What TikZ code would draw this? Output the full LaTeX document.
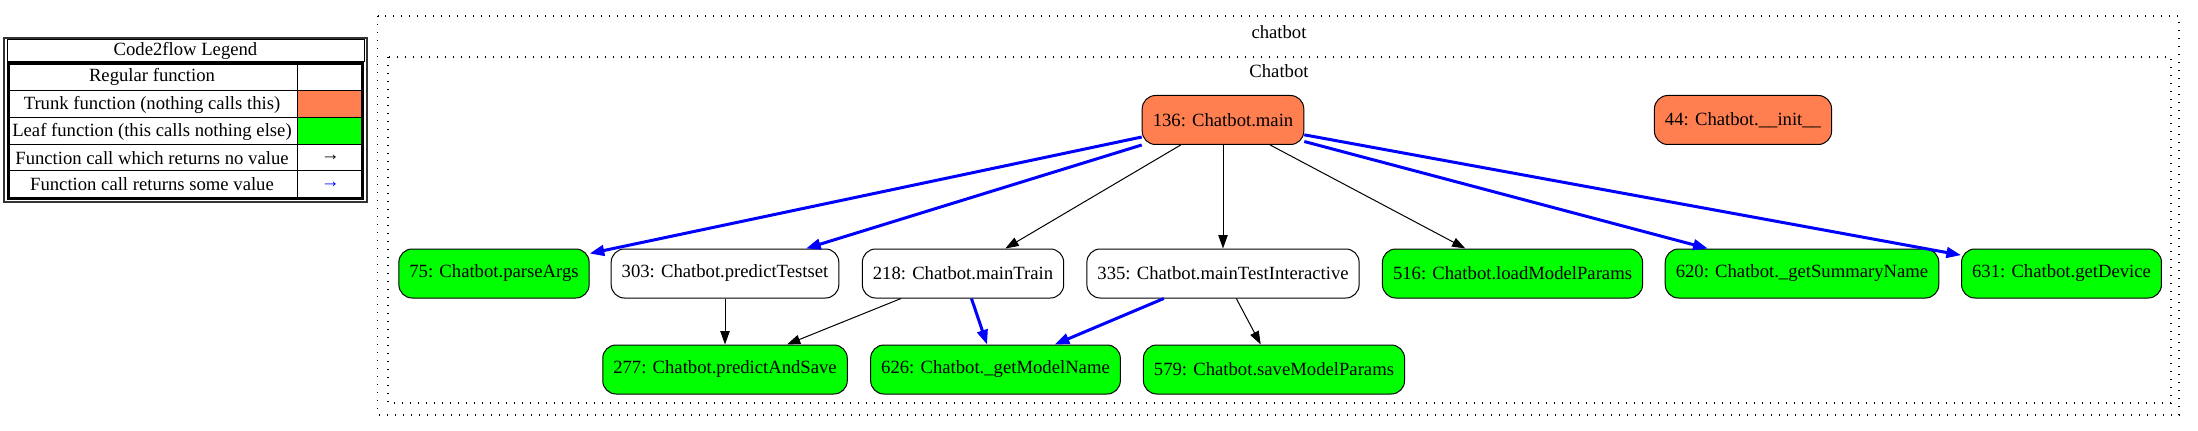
\documentclass[tikz,border=0pt]{standalone}
\usepackage{fontspec}
\setmainfont{Liberation Serif}
\usepackage{tikz}
\usetikzlibrary{arrows.meta}

\definecolor{trunkcol}{HTML}{FF7F50}
\definecolor{leafcol}{HTML}{00FF00}

\begin{document}
\begin{tikzpicture}[x=0.75pt,y=-0.75pt,
    font=\fontsize{14}{16}\selectfont,
    func/.style={draw, fill=white, rounded corners=10pt, minimum height=36.75pt, inner xsep=7.9pt, line width=0.75pt},
    trunkfn/.style={func, fill=trunkcol},
    leaffn/.style={func, fill=leafcol},
    call/.style={-{Triangle[length=10pt,width=7pt]}, line width=0.75pt},
    retcall/.style={-{Triangle[length=11pt,width=8pt]}, blue, line width=2.25pt},
    cluster/.style={dash pattern=on 1pt off 5pt, line width=0.9pt}]

\useasboundingbox (0,0) rectangle (2198,431);

% Legend
\fill[trunkcol] (297,91) rectangle (363,118);
\fill[leafcol] (297,118) rectangle (363,145);
\draw[line width=1.5pt, black!80] (4,38) rectangle (367,202);
\draw[line width=0.75pt] (7,40) rectangle (364,62);
\draw[line width=2.25pt] (8.5,63.5) rectangle (362.5,198.5);
\draw[line width=0.75pt] (8,91) -- (363,91) (8,118) -- (363,118)
    (8,145) -- (363,145) (8,171) -- (363,171) (297,63) -- (297,198);
\node (legendtitle) at (185.5,51) {Code2flow Legend};
\node (regularrow) at (152,77) {Regular function};
\node (trunkrow) at (152,104.5) {Trunk function (nothing calls this)};
\node (leafrow) at (152,131.5) {Leaf function (this calls nothing else)};
\node (noretrow) at (152,158) {Function call which returns no value};
\node (noretarrow) at (330.5,158) {→};
\node (retrow) at (152,184.5) {Function call returns some value};
\node[blue] (retarrow) at (330.5,184.5) {→};

% Clusters
\draw[cluster] (377.6,16) rectangle (2179,415);
\draw[cluster] (388,57) rectangle (2171,403);
\node (filelabel) at (1279,32) {chatbot};
\node (classlabel) at (1279,71) {Chatbot};

% Functions
\node[trunkfn] (main) at (1223,120) {136: Chatbot.main};
\node[trunkfn] (init) at (1743,120) {44: Chatbot.\_\_init\_\_};

\node[leaffn] (parseArgs) at (494,273.5) {75: Chatbot.parseArgs};
\node[func] (predictTestset) at (725,273.5) {303: Chatbot.predictTestset};
\node[func] (mainTrain) at (963,273.5) {218: Chatbot.mainTrain};
\node[func] (mainTestInteractive) at (1223,273.5) {335: Chatbot.mainTestInteractive};
\node[leaffn] (loadModelParams) at (1512.5,273.5) {516: Chatbot.loadModelParams};
\node[leaffn] (getSummaryName) at (1802,273.5) {620: Chatbot.\_getSummaryName};
\node[leaffn] (getDevice) at (2061.5,273.5) {631: Chatbot.getDevice};

\node[leaffn] (predictAndSave) at (725,369.5) {277: Chatbot.predictAndSave};
\node[leaffn] (getModelName) at (995.5,369.5) {626: Chatbot.\_getModelName};
\node[leaffn] (saveModelParams) at (1274,369.5) {579: Chatbot.saveModelParams};

% Calls
\draw[retcall] (main) -- (parseArgs);
\draw[retcall] (main) -- (predictTestset);
\draw[call] (main) -- (mainTrain);
\draw[call] (main) -- (mainTestInteractive);
\draw[call] (main) -- (loadModelParams);
\draw[retcall] (main) -- (getSummaryName);
\draw[retcall] (main) -- (getDevice);

\draw[call] (predictTestset) -- (predictAndSave);
\draw[call] (mainTrain) -- (predictAndSave);
\draw[retcall] (mainTrain) -- (getModelName);
\draw[retcall] (mainTestInteractive) -- (getModelName);
\draw[call] (mainTestInteractive) -- (saveModelParams);

\end{tikzpicture}
\end{document}
